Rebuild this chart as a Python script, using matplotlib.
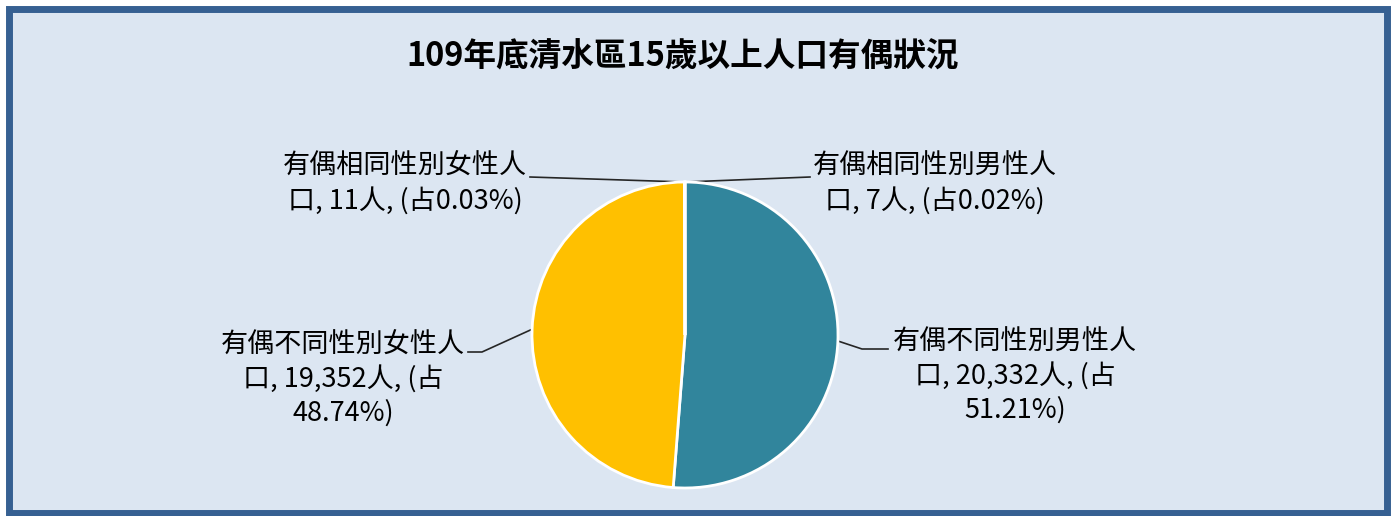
import matplotlib
matplotlib.use('Agg')
import numpy as np
import matplotlib.pyplot as plt
from matplotlib.patches import Rectangle
from matplotlib.lines import Line2D

plt.rcParams['font.family'] = ['Noto Sans CJK TC', 'DejaVu Sans']

# ---------------------------------------------------------------------------
# Data (clockwise from 12 o'clock)
# ---------------------------------------------------------------------------
title = "109年底清水區15歲以上人口有偶狀況"
categories = ["有偶相同性別男性人口", "有偶不同性別男性人口",
              "有偶不同性別女性人口", "有偶相同性別女性人口"]
counts = [7, 20332, 19352, 11]
shares = [0.02, 51.21, 48.74, 0.03]
colors = ['#4F81BD', '#31859C', '#FFC000', '#C0504D']

W, H = 1391, 516
fig = plt.figure(figsize=(W / 100, H / 100), dpi=100)
fig.patch.set_facecolor('white')


def px(x, y):
    """pixel (from top-left) -> figure fraction"""
    return x / W, 1 - y / H


# background panel with blue frame
x0, y0 = px(8.5, 513)
x1, y1 = px(1387, 8.5)
fig.patches.append(Rectangle((x0, y0), x1 - x0, y1 - y0, transform=fig.transFigure,
                             facecolor='#DCE6F2', edgecolor='#366092', linewidth=5.0,
                             zorder=-5))

fig.text(*px(683, 57), title, ha='center', va='center', fontsize=23.5,
         fontweight='bold', color='black')

# pie
cx, cy, r = 685, 335, 153
ax = fig.add_axes([(cx - r) / W, (H - cy - r) / H, 2 * r / W, 2 * r / H])
ax.set_zorder(2)
wedges, _ = ax.pie(counts, colors=colors, startangle=90, counterclock=False,
                   radius=1.0, wedgeprops=dict(edgecolor='white', linewidth=2))
ax.set_xlim(-1.0, 1.0)
ax.set_ylim(-1.0, 1.0)
ax.set_aspect('equal')
ax.axis('off')


def label_text(name, n, pct, wrap):
    txt = f"{name}, {n:,}人, (占{pct:.2f}%)"
    lines = []
    i = 0
    for w in wrap:
        lines.append(txt[i:i + w])
        i += w
    lines.append(txt[i:])
    return "\n".join(l for l in lines if l)


# label centre (px), text anchor for leader (px), wrap widths
label_pos = [(935, 184), (1015, 376), (343, 379), (405, 184)]
leader_end = [(810, 177), (888, 349), (468, 352), (530, 177)]
elbow = [None, (862, 349), (482, 352), None]
wraps = [[9], [9, 14], [9, 14], [9]]

inv = fig.transFigure.inverted()
for i, wdg in enumerate(wedges):
    ang = np.deg2rad((wdg.theta1 + wdg.theta2) / 2)
    pt_disp = ax.transData.transform((np.cos(ang), np.sin(ang)))
    pt = inv.transform(pt_disp)
    xs = [pt[0]]
    ys = [pt[1]]
    if elbow[i] is not None:
        ex, ey = px(*elbow[i])
        xs.append(ex)
        ys.append(ey)
    lx, ly = px(*leader_end[i])
    xs.append(lx)
    ys.append(ly)
    fig.lines.append(Line2D(xs, ys, transform=fig.transFigure, color='#262626',
                            linewidth=1.2, zorder=1))
    fig.text(*px(*label_pos[i]),
             label_text(categories[i], counts[i], shares[i], wraps[i]),
             ha='center', va='center', fontsize=19.5, color='black',
             linespacing=1.3)

fig.savefig('out.png', dpi=100)
